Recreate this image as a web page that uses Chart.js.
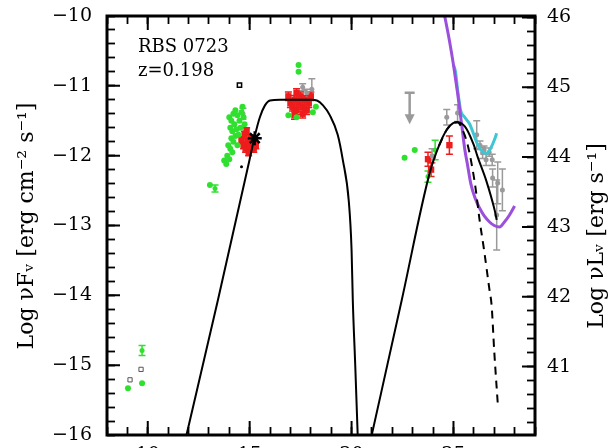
<!DOCTYPE html>
<html>
<head>
<meta charset="utf-8">
<script src="https://cdn.jsdelivr.net/npm/chart.js@4.4.0/dist/chart.umd.min.js"></script>
<style>
  html, body { margin: 0; padding: 0; overflow: hidden; background: #fff; }
  canvas { display: block; }
</style>
</head>
<body>
<canvas id="sed" width="610" height="470"></canvas>
<script>
// values: [log nu, log nuFnu]
const xTicks = [10, 15, 20, 25];
const yTicks = [-16, -15, -14, -13, -12, -11, -10];
const y2Ticks = [41, 42, 43, 44, 45, 46];
const lumOffset = 56.02; // log nuLnu - log nuFnu

// minor tick positions (every 1 in x, every 0.2 in y)
const xMinor = [8, 9, 10, 11, 12, 13, 14, 15, 16, 17, 18, 19, 20, 21, 22, 23, 24, 25, 26, 27, 28, 29];
const yMinor = Array.from({length: 31}, (_, k) => Math.round((-16 + k * 0.2) * 10) / 10);
const y2Minor = Array.from({length: 30}, (_, k) => Math.round((40.2 + k * 0.2) * 10) / 10);

const syncCurve = [[11.9,-16],[13.44,-14.07],[15.0,-12.05],[15.25,-11.72],[15.5,-11.45],[15.75,-11.28],
  [16.0,-11.21],[16.5,-11.2],[17.5,-11.2],[18.0,-11.2],[18.3,-11.21],[18.6,-11.28],[18.93,-11.42],
  [19.32,-11.7],[19.57,-12.06],[19.86,-12.64],[20.0,-13.35],[20.06,-14.07],[20.18,-15.0],[20.3,-16]];
const icCurve = [[20.99,-16],[22.46,-14.07],[23.83,-12.25],[24.3,-11.85],[24.67,-11.63],[25.0,-11.53],
  [25.2,-11.52],[25.45,-11.55],[25.65,-11.62],[26.0,-11.85],[26.19,-12.02],[26.6,-12.35],[27.02,-12.78],[27.12,-12.92]];
const icAbsorbed = [[24.3,-11.85],[24.67,-11.63],[25.0,-11.53],[25.2,-11.52],[25.4,-11.6],[25.7,-11.85],
  [25.94,-12.2],[26.1,-12.5],[26.28,-12.92],[26.5,-13.35],[26.77,-13.93],[26.87,-14.14],[27.0,-14.8],[27.17,-15.54]];
const purpleCurve = [[24.5,-9.9],[24.8,-10.35],[25.0,-10.7],[25.2,-11.1],[25.4,-11.55],[25.55,-11.9],
  [25.7,-12.15],[25.85,-12.4],[26.05,-12.6],[26.28,-12.75],[26.5,-12.86],[26.77,-12.95],[27.0,-13.0],
  [27.26,-13.02],[27.5,-12.95],[27.75,-12.85],[28.0,-12.72]];
const cyanCurve = [[25.0,-10.7],[25.1,-10.8],[25.2,-11.05],[25.35,-11.35],[25.55,-11.45],[25.8,-11.55],
  [26.0,-11.7],[26.2,-11.85],[26.45,-11.95],[26.65,-11.97],[26.85,-11.88],[27.0,-11.78],[27.12,-11.68]];

const greenPts = [[9.03,-15.33],[9.72,-15.26],
  [13.05,-12.42],[13.75,-12.07],[13.85,-12.12],[13.9,-12.0],[14.0,-12.05],[13.95,-11.85],[14.05,-11.9],
  [14.15,-11.95],[14.1,-11.75],[14.2,-11.8],[14.3,-11.72],[14.4,-11.85],[14.05,-11.6],[14.15,-11.65],
  [14.25,-11.55],[14.35,-11.62],[14.45,-11.7],[14.55,-11.6],[14.0,-11.45],[14.1,-11.5],[14.2,-11.4],
  [14.3,-11.35],[14.4,-11.42],[14.5,-11.5],[14.6,-11.38],[14.7,-11.45],[14.65,-11.3],[14.75,-11.55],
  [17.4,-10.7],[17.4,-10.8],[16.9,-11.42],[17.3,-11.45],[18.1,-11.38],[18.25,-11.3],
  [22.6,-12.03],[23.1,-11.92]];
// [log nu, log nuFnu, error]
const greenErr = [[9.72,-14.79,0.07],[13.3,-12.47,0.05],[24.1,-11.92,0.14],[23.75,-12.3,0.08]];
const redPts = [[14.6,-11.78,0.05],[14.7,-11.85,0.05],[14.8,-11.9,0.05],[14.9,-11.82,0.05],[15.0,-11.88,0.05],
  [15.1,-11.8,0.05],[15.2,-11.9,0.05],[15.3,-11.85,0.05],[14.75,-11.7,0.05],[14.95,-11.95,0.05],
  [15.05,-11.75,0.05],[14.85,-11.65,0.05],
  [16.9,-11.15,0.06],[17.0,-11.25,0.06],[17.1,-11.3,0.06],[17.2,-11.2,0.06],[17.3,-11.35,0.06],
  [17.4,-11.25,0.06],[17.5,-11.15,0.06],[17.6,-11.3,0.06],[17.7,-11.2,0.06],[17.8,-11.35,0.06],
  [17.9,-11.25,0.06],[18.0,-11.15,0.06],[17.3,-11.1,0.06],[17.6,-11.4,0.06],[17.2,-11.42,0.06],
  [23.75,-12.05,0.1],[23.9,-12.2,0.1],[24.8,-11.85,0.13]];
const greyPts = [[14.67,-11.4,0.08],[17.6,-11.02,0.05],[18.05,-11.05,0.15],[17.8,-11.1,0.05],
  [23.95,-12.0,0.1],[24.67,-11.45,0.11],[25.2,-11.39,0.12],[26.14,-11.7,0.2],[26.43,-11.96,0.08],
  [26.6,-12.06,0.08],[26.9,-12.06,0.08],[26.92,-12.32,0.13],[27.17,-12.39,0.3],[27.4,-12.49,0.3],
  [27.12,-12.85,0.5],[26.3,-11.85,0.06],[26.5,-11.92,0.06],[26.75,-11.95,0.06]];
const greyLimits = [[22.85,-11.1,0.45]]; // [log nu, upper limit, arrow length]
const openSquares = [[9.13,-15.21],[9.67,-15.06]];
const blackSquare = [[14.5,-10.99]];
const blackDot = [[14.6,-12.16]];
const blackStar = [[15.25,-11.75]];

const toXY = arr => arr.map(p => ({x: p[0], y: p[1]}));
const fontFamily = "'DejaVu Serif', serif";

function curve(arr, color, width, dash) {
  return {
    data: toXY(arr), showLine: true, pointRadius: 0, borderColor: color, borderWidth: width,
    borderDash: dash || [], cubicInterpolationMode: 'monotone', fill: false, order: 1
  };
}

function points(arr, color, style, radius, extra) {
  return Object.assign({
    data: toXY(arr), pointStyle: style, pointRadius: radius, backgroundColor: color,
    borderColor: color, borderWidth: 0, showLine: false, order: 2
  }, extra || {});
}

// longer inward marks at the major ticks
function drawMajorTicks(chart) {
  const ctx = chart.ctx, a = chart.chartArea;
  const sx = chart.scales.x, sy = chart.scales.y, sy2 = chart.scales.y2;
  ctx.save();
  ctx.strokeStyle = '#000';
  ctx.lineWidth = 2;
  ctx.beginPath();
  xTicks.forEach(v => {
    const px = sx.getPixelForValue(v);
    ctx.moveTo(px, a.bottom); ctx.lineTo(px, a.bottom - 14);
    ctx.moveTo(px, a.top); ctx.lineTo(px, a.top + 14);
  });
  yTicks.forEach(v => {
    const py = sy.getPixelForValue(v);
    ctx.moveTo(a.left, py); ctx.lineTo(a.left + 13, py);
  });
  y2Ticks.forEach(v => {
    const py = sy2.getPixelForValue(v);
    ctx.moveTo(a.right, py); ctx.lineTo(a.right - 13, py);
  });
  ctx.stroke();
  ctx.restore();
}

// vertical error bars with caps, upper-limit arrows
const errorBars = {
  id: 'errorBars',
  beforeDatasetsDraw(chart) {
    const {ctx, scales: {x, y}} = chart;
    ctx.save();
    chart.data.datasets.forEach(ds => {
      if (!ds.errors) return;
      ctx.strokeStyle = ds.errorColor;
      ctx.lineWidth = 1.5;
      ds.data.forEach((p, i) => {
        const px = x.getPixelForValue(p.x);
        const t = y.getPixelForValue(p.y + ds.errors[i]);
        const b = y.getPixelForValue(p.y - ds.errors[i]);
        ctx.beginPath();
        ctx.moveTo(px, t); ctx.lineTo(px, b);
        ctx.moveTo(px - 3.5, t); ctx.lineTo(px + 3.5, t);
        ctx.moveTo(px - 3.5, b); ctx.lineTo(px + 3.5, b);
        ctx.stroke();
      });
    });
    ctx.strokeStyle = '#9a9a9a';
    ctx.fillStyle = '#9a9a9a';
    ctx.lineWidth = 2.5;
    greyLimits.forEach(l => {
      const px = x.getPixelForValue(l[0]);
      const t = y.getPixelForValue(l[1]);
      const b = y.getPixelForValue(l[1] - l[2]);
      ctx.beginPath();
      ctx.moveTo(px - 5, t); ctx.lineTo(px + 5, t);
      ctx.moveTo(px, t); ctx.lineTo(px, b - 8);
      ctx.stroke();
      ctx.beginPath();
      ctx.moveTo(px - 5, b - 10); ctx.lineTo(px + 5, b - 10); ctx.lineTo(px, b);
      ctx.closePath();
      ctx.fill();
    });
    ctx.restore();
  }
};

// frame, titles and labels
const frame = {
  id: 'frame',
  afterDraw(chart) {
    const ctx = chart.ctx, a = chart.chartArea;
    drawMajorTicks(chart);
    ctx.save();
    ctx.strokeStyle = '#000';
    ctx.lineWidth = 3;
    ctx.strokeRect(a.left, a.top, a.right - a.left, a.bottom - a.top);

    ctx.fillStyle = '#000';
    ctx.font = '22px ' + fontFamily;
    ctx.textAlign = 'center';
    ctx.textBaseline = 'middle';
    ctx.save();
    ctx.translate(27, 226);
    ctx.rotate(-Math.PI / 2);
    ctx.fillText('Log \u03bdF\u1d65 [erg cm\u207b\u00b2 s\u207b\u00b9]', 0, 0);
    ctx.restore();
    ctx.save();
    ctx.translate(597, 236);
    ctx.rotate(-Math.PI / 2);
    ctx.fillText('Log \u03bdL\u1d65 [erg s\u207b\u00b9]', 0, 0);
    ctx.restore();

    ctx.font = '18px ' + fontFamily;
    ctx.textAlign = 'left';
    ctx.textBaseline = 'alphabetic';
    ctx.fillText('RBS 0723', 138, 52);
    ctx.fillText('z=0.198', 138, 76);
    ctx.restore();
  }
};

const tickFont = {family: fontFamily, size: 19};
const isInt = v => Math.abs(v - Math.round(v)) < 1e-6;
const noPad = s => { s.paddingTop = 0; s.paddingBottom = 0; s.paddingLeft = 0; s.paddingRight = 0; };
// inward tick marks drawn by the axes themselves (negative tick length)
const inGrid = {display: true, drawOnChartArea: false, drawTicks: true, tickLength: -8,
  tickColor: '#000', tickWidth: 1.8};

new Chart(document.getElementById('sed'), {
  type: 'scatter',
  data: {
    datasets: [
      curve(syncCurve, '#000', 2),
      curve(icCurve, '#000', 2),
      curve(icAbsorbed, '#000', 2, [8, 6]),
      curve(purpleCurve, '#9b4fdc', 3),
      curve(cyanCurve, '#3fc6d2', 3),
      points(greenPts, '#2fe02f', 'circle', 3),
      points(greenErr.map(p => [p[0], p[1]]), '#2fe02f', 'circle', 2.5,
        {errors: greenErr.map(p => p[2]), errorColor: '#2fe02f'}),
      points(greyPts.map(p => [p[0], p[1]]), '#9a9a9a', 'circle', 2.5,
        {errors: greyPts.map(p => p[2]), errorColor: '#9a9a9a'}),
      points(redPts.map(p => [p[0], p[1]]), '#ee1c1c', 'rect', 4.5,
        {errors: redPts.map(p => p[2]), errorColor: '#ee1c1c'}),
      points(openSquares, 'rgba(0,0,0,0)', 'rect', 3, {borderColor: '#555', borderWidth: 1}),
      points(blackSquare, 'rgba(0,0,0,0)', 'rect', 3, {borderColor: '#000', borderWidth: 1.5}),
      points(blackDot, '#000', 'circle', 1.5),
      points(blackStar, '#000', 'star', 7, {borderWidth: 2.5, order: 0})
    ]
  },
  options: {
    responsive: false,
    animation: false,
    layout: {padding: {top: 16, left: 0, right: 0, bottom: 0}},
    plugins: {legend: {display: false}, tooltip: {enabled: false}},
    scales: {
      x: {
        type: 'linear', position: 'bottom', min: 8, max: 29,
        afterBuildTicks: s => { s.ticks = xMinor.map(v => ({value: v})); },
        afterFit: s => { s.height = 35; noPad(s); },
        grid: inGrid, border: {display: false},
        ticks: {font: tickFont, color: '#000', padding: 17, maxRotation: 0, minRotation: 0, autoSkip: false,
          callback: v => xTicks.includes(v) ? String(v) : ''}
      },
      xTop: {
        type: 'linear', position: 'top', min: 8, max: 29,
        afterBuildTicks: s => { s.ticks = xMinor.map(v => ({value: v})); },
        afterFit: s => { s.height = 0; noPad(s); },
        grid: inGrid, border: {display: false},
        ticks: {display: false, autoSkip: false}
      },
      y: {
        type: 'linear', position: 'left', min: -16, max: -10,
        afterBuildTicks: s => { s.ticks = yMinor.map(v => ({value: v})); },
        afterFit: s => { s.width = 107; noPad(s); },
        grid: inGrid, border: {display: false},
        ticks: {font: tickFont, color: '#000', padding: 23, autoSkip: false,
          callback: v => isInt(v) ? String(Math.round(v)).replace('-', '\u2212') : ''}
      },
      y2: {
        type: 'linear', position: 'right', min: -16 + lumOffset, max: -10 + lumOffset,
        afterBuildTicks: s => { s.ticks = y2Minor.map(v => ({value: v})); },
        afterFit: s => { s.width = 75; noPad(s); },
        grid: inGrid, border: {display: false},
        ticks: {font: tickFont, color: '#000', padding: 20, autoSkip: false,
          callback: v => isInt(v) ? String(Math.round(v)) : ''}
      }
    }
  },
  plugins: [errorBars, frame]
});
</script>
</body>
</html>
